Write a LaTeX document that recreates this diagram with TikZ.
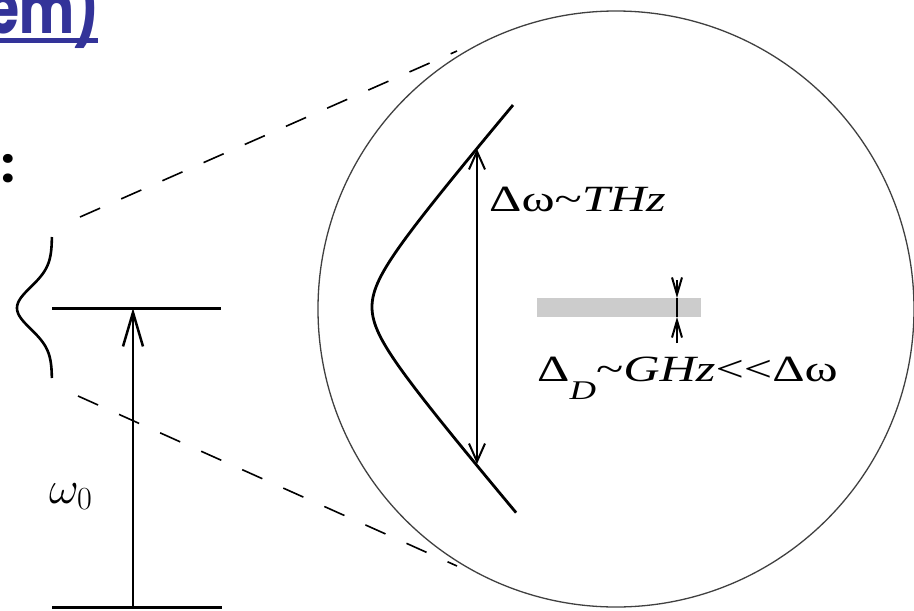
\RequirePackage{fix-cm}
\documentclass[tikz,border=0pt]{standalone}
\usepackage{fontspec}
\setmainfont{Liberation Serif}
\newfontfamily\titlefont{Poppins}
\usetikzlibrary{arrows.meta}
\definecolor{titleblue}{RGB}{51,51,153}
\definecolor{bargray}{RGB}{204,204,204}
\tikzset{
  thick line/.style={line width=3pt, line cap=butt},
  zoomline/.style={line width=1.6pt, dash pattern=on 22pt off 23pt},
  lens/.style={line width=1.3pt, draw=black!75},
  bigtip/.style={-{Straight Barb[length=34pt,width=20pt,line width=2.5pt]}},
  midtip/.style={{Straight Barb[length=18pt,width=16pt]}-{Straight Barb[length=18pt,width=16pt]}},
  smalltip/.style={-{Straight Barb[length=17pt,width=10pt]}},
  lbl/.style={inner sep=0pt, anchor=base west, font=\fontsize{37}{44}\selectfont},
}
\newcommand{\wide}[1]{\scalebox{1.36}[1]{#1}}
\begin{document}
\begin{tikzpicture}[x=1pt,y=-1pt]
\useasboundingbox (0,0) rectangle (914,611);

% title fragment
\node[inner sep=0pt, anchor=base east, text=titleblue, font=\titlefont\bfseries\fontsize{72}{80}\selectfont] (title) at (99,33) {\scalebox{0.72}[1]{em)}};
\fill[titleblue] (0,38) rectangle (98,43);
\node[inner sep=0pt, anchor=base west, font=\titlefont\bfseries\fontsize{48}{56}\selectfont] (colon) at (1,182) {:};

% left: energy levels
\coordinate (up1) at (52,308);
\coordinate (up2) at (221,308);
\coordinate (lo1) at (52,607);
\coordinate (lo2) at (222,607);
\coordinate (atop) at (133,308);
\coordinate (abot) at (133,607);
\draw[thick line] (up1) -- (up2);
\draw[thick line] (lo1) -- (lo2);
\draw[line width=2.5pt, bigtip] (abot) -- (atop);
\node[inner sep=0pt, anchor=base west, font=\fontsize{46}{52}\selectfont] (w0) at (49,503) {$\omega_0$};

% left line profile
\draw[line width=2.6pt, smooth] plot[domain=-71:70, samples=80] ({52-35*exp(-0.5*(\x/21)^2)}, {308+\x});

% zoom lines
\coordinate (z1a) at (80,217);
\coordinate (z1b) at (457,51);
\coordinate (z2a) at (78,396);
\coordinate (z2b) at (457,566);
\draw[zoomline] (z1a) -- (z1b);
\draw[zoomline] (z2a) -- (z2b);

% magnifier circle
\node[lens, circle, minimum size=596pt, inner sep=0pt] (lensc) at (616,309) {};

% broad line shape
\draw[line width=2.8pt, smooth] plot[domain=-2.322:2.341, samples=100] ({372+34*(cosh(\x)-1)}, {307+40*sinh(\x)});
\coordinate (dwtop) at (477,149);
\coordinate (dwbot) at (477,464);
\draw[line width=2pt, midtip] (dwbot) -- (dwtop);
\node[lbl] (thz) at (489,211) {\wide{Δω\textasciitilde\textit{THz}}};

% narrow doppler bar
\fill[bargray] (537,298) rectangle (701,317);
\coordinate (dt1) at (677,280);
\coordinate (dt2) at (677,298);
\coordinate (db1) at (677,343);
\coordinate (db2) at (677,317);
\draw[line width=2pt] (dt2) -- (db2);
\draw[line width=2pt, smalltip] (dt1) -- (dt2);
\draw[line width=2pt, smalltip] (db1) -- (db2);
\node[lbl] (ghz) at (537,381) {\wide{Δ\raisebox{-0.5em}{\fontsize{27}{30}\selectfont\textit{D}}\textasciitilde\textit{GHz}<\kern0pt<Δω}};
\end{tikzpicture}
\end{document}
